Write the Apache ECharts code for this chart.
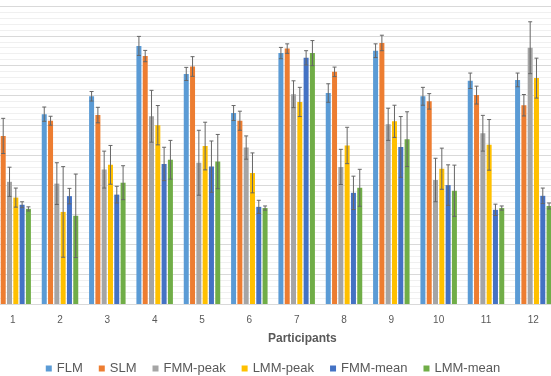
<!DOCTYPE html>
<html>
<head>
<meta charset="utf-8">
<script src="https://cdn.jsdelivr.net/npm/echarts@6/dist/echarts.min.js"></script>
<style>
  html, body { margin: 0; padding: 0; background: #fff; overflow: hidden; }
  /* the plot area of the original runs past both edges of the picture */
  #chart { width: 568px; height: 376px; margin-left: -11px; }
</style>
</head>
<body>
<div id="chart"></div>
<script>
const participants = ['1', '2', '3', '4', '5', '6', '7', '8', '9', '10', '11', '12']
const seriesNames = ['FLM', 'SLM', 'FMM-peak', 'LMM-peak', 'FMM-mean', 'LMM-mean']
const seriesColors = ['#5B9BD5', '#ED7D31', '#A5A5A5', '#FFC000', '#4472C4', '#70AD47']

// bar heights (y axis has no labels; read in gridline units)
const flm      = [6.30, 6.37, 6.97, 8.66, 7.72, 6.41, 8.42, 7.08, 8.50, 6.97, 7.49, 7.52]
const slm      = [5.64, 6.15, 6.34, 8.32, 7.97, 6.15, 8.57, 7.79, 8.76, 6.80, 7.01, 6.67]
const fmmPeak  = [4.10, 4.04, 4.51, 6.30, 4.74, 5.25, 7.04, 4.60, 6.03, 4.16, 5.73, 8.60]
const lmmPeak  = [3.57, 3.09, 4.67, 6.00, 5.30, 4.40, 6.78, 5.32, 6.13, 4.54, 5.34, 7.58]
const fmmMean  = [3.33, 3.62, 3.67, 4.70, 4.61, 3.26, 8.26, 3.73, 5.27, 3.99, 3.16, 3.63]
const lmmMean  = [3.19, 2.96, 4.07, 4.84, 4.78, 3.22, 8.42, 3.90, 5.53, 3.80, 3.22, 3.29]

// error bar half-lengths
const flmErr     = [0.25, 0.24, 0.16, 0.32, 0.22, 0.25, 0.19, 0.31, 0.23, 0.30, 0.26, 0.23]
const slmErr     = [0.59, 0.15, 0.26, 0.19, 0.33, 0.32, 0.16, 0.16, 0.26, 0.26, 0.30, 0.36]
const fmmPeakErr = [0.49, 0.70, 0.62, 0.87, 1.09, 0.39, 0.45, 0.59, 0.54, 0.73, 0.60, 0.87]
const lmmPeakErr = [0.32, 1.52, 0.65, 0.66, 0.80, 0.67, 0.49, 0.61, 0.54, 0.69, 0.85, 0.67]
const fmmMeanErr = [0.10, 0.26, 0.28, 0.56, 0.86, 0.22, 0.24, 0.56, 1.02, 0.68, 0.19, 0.26]
const lmmMeanErr = [0.07, 1.40, 0.57, 0.65, 0.91, 0.07, 0.42, 0.62, 0.92, 0.86, 0.07, 0.10]

const values = [flm, slm, fmmPeak, lmmPeak, fmmMean, lmmMean]
const errors = [flmErr, slmErr, fmmPeakErr, lmmPeakErr, fmmMeanErr, lmmMeanErr]

const shift = 11 // px the div is moved left
const barWidth = 5
const barPitch = 6.3
const labelColor = '#595959'
const font = 'Liberation Sans, Arial, sans-serif'

const barOffset = (i) => (i - (seriesNames.length - 1) / 2) * barPitch

const barSeries = seriesNames.map((name, i) => ({
  name,
  type: 'bar',
  barWidth,
  barGap: '26%',
  itemStyle: { color: seriesColors[i] },
  data: values[i],
  z: 2
}))

const errorSeries = seriesNames.map((name, i) => ({
  type: 'custom',
  name: name + '-err',
  silent: true,
  z: 5,
  data: values[i].map((v, k) => [k, v - errors[i][k], v + errors[i][k]]),
  renderItem: (params, api) => {
    const cat = api.value(0)
    const lo = api.coord([cat, api.value(1)])
    const hi = api.coord([cat, api.value(2)])
    const x = lo[0] + barOffset(i)
    const cap = 2
    const style = { stroke: '#666', lineWidth: 1 }
    return {
      type: 'group',
      children: [
        { type: 'line', shape: { x1: x, y1: lo[1], x2: x, y2: hi[1] }, style },
        { type: 'line', shape: { x1: x - cap, y1: lo[1], x2: x + cap, y2: lo[1] }, style },
        { type: 'line', shape: { x1: x - cap, y1: hi[1], x2: x + cap, y2: hi[1] }, style }
      ]
    }
  }
}))

const chart = echarts.init(document.getElementById('chart'), null, { renderer: 'canvas' })

chart.setOption({
  backgroundColor: '#fff',
  animation: false,
  textStyle: { fontFamily: font },
  title: {
    text: 'Participants',
    left: 263 + shift,
    top: 328,
    textStyle: { fontSize: 12, fontWeight: 'bold', color: labelColor, fontFamily: font }
  },
  legend: {
    data: seriesNames,
    left: 'center',
    top: 357,
    itemWidth: 6,
    itemHeight: 6,
    itemGap: 16,
    icon: 'rect',
    textStyle: { fontSize: 13, color: labelColor, fontFamily: font }
  },
  grid: {
    left: 0,
    right: 0,
    top: 6,
    bottom: 72
  },
  xAxis: {
    type: 'category',
    data: participants,
    axisLine: { show: true, lineStyle: { color: '#d9d9d9' } },
    axisTick: { show: false },
    axisLabel: { fontSize: 10, color: labelColor, margin: 11, fontFamily: font }
  },
  yAxis: {
    type: 'value',
    min: 0,
    max: 10,
    interval: 1,
    axisLine: { show: false },
    axisTick: { show: false },
    axisLabel: { show: false },
    splitLine: { lineStyle: { color: '#d9d9d9' } },
    minorTick: { show: false, splitNumber: 5 },
    minorSplitLine: { show: true, lineStyle: { color: '#f0f0f0' } }
  },
  series: [...barSeries, ...errorSeries]
})
</script>
</body>
</html>
